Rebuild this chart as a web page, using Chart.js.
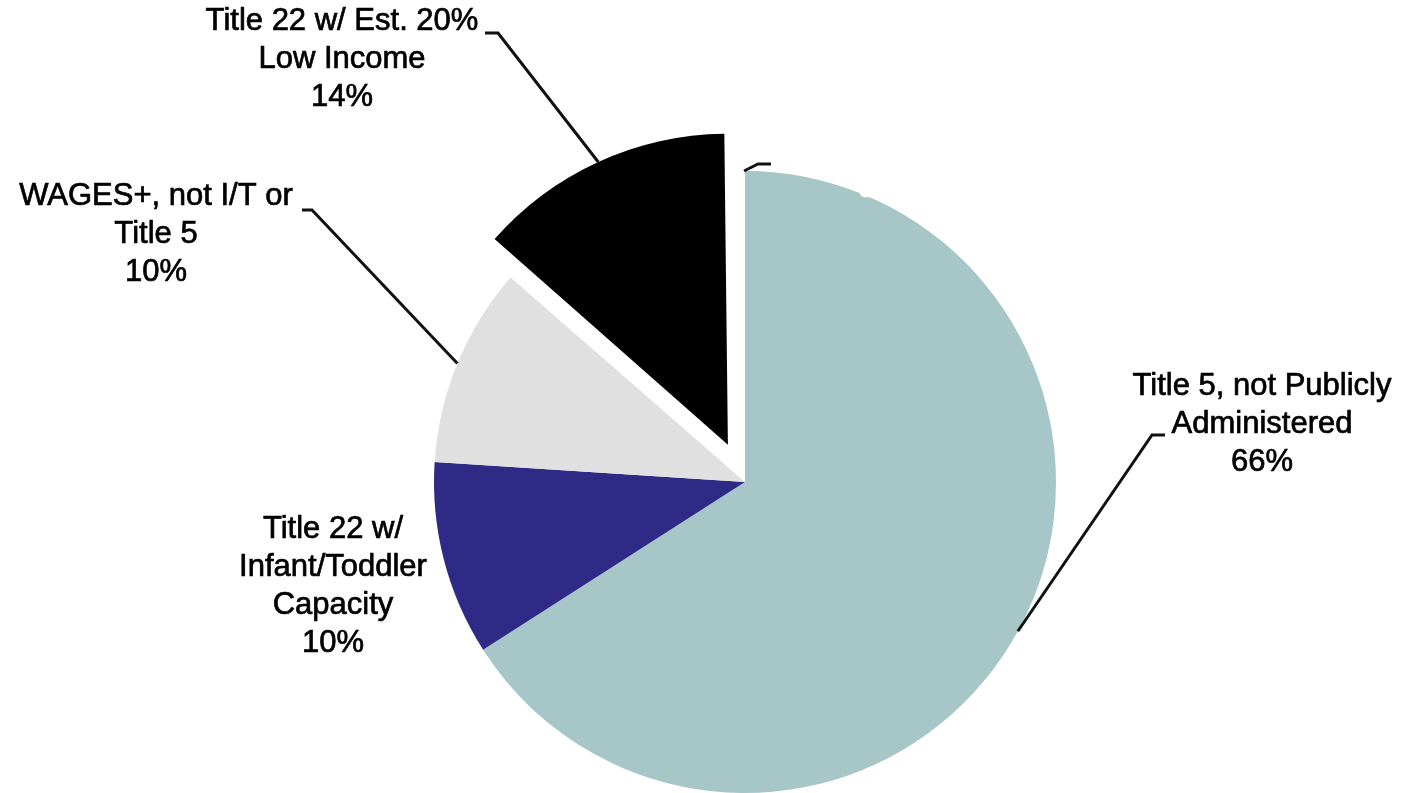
<!DOCTYPE html>
<html>
<head>
<meta charset="utf-8">
<script src="https://cdn.jsdelivr.net/npm/chart.js@4"></script>
<style>
  html, body { margin: 0; padding: 0; background: #fff; overflow: hidden; }
  #wrap { width: 1403px; height: 793px; position: relative; }
</style>
</head>
<body>
<div id="wrap"><canvas id="pie" width="1403" height="793"></canvas></div>
<script>
// slices, clockwise from 12 o'clock
const categories = [
  ['Title 5, not Publicly', 'Administered'],
  ['Title 22 w/', 'Infant/Toddler', 'Capacity'],
  ['WAGES+, not I/T or', 'Title 5'],
  ['Title 22 w/ Est. 20%', 'Low Income'],
  ['Title 5, Publicly', 'Administered']
];
const shares = [66.0, 10.1, 10.4, 13.5, 0.1];
const pctLabels = ['66%', '10%', '10%', '14%', '0%'];
const colors = ['#A6C6C8', '#2E2A86', '#E0E0E0', '#000000', '#FFFFFF'];

// chart.js moves an exploded slice by offset/4
const explode = [0, 0, 0, 164, 0];

// where each label sits, and the elbow of its leader line (null = no leader)
const labelPos = [
  { x: 1262, y: 386, elbow: [[1152, 435], [1165, 435]], color: '#000' },
  { x: 333, y: 529, elbow: null, color: '#000' },
  { x: 156, y: 196, elbow: [[312, 210], [302, 210]], color: '#000' },
  { x: 342, y: 21, elbow: [[498, 33], [485, 33]], color: '#000' },
  { x: 880, y: 112, elbow: [[758, 164], [771, 164]], color: '#fff' }
];

// keep the exploded slice at the same radius as the rest (library grows it a bit)
const keepRadius = {
  id: 'keepRadius',
  beforeDatasetsDraw(chart) {
    chart.getDatasetMeta(0).data.forEach(arc => {
      const off = (arc.options.offset || 0) / 4;
      if (!off) return;
      const circ = arc.endAngle - arc.startAngle;
      const grow = off * (1 - Math.sin(Math.min(Math.PI, circ)));
      arc.outerRadius = chart.options.radius - grow;
    });
  }
};

const calloutPlugin = {
  id: 'callouts',
  afterDatasetsDraw(chart) {
    const ctx = chart.ctx;
    const meta = chart.getDatasetMeta(0);
    ctx.save();
    meta.data.forEach((arc, i) => {
      const p = arc.getProps(['x', 'y', 'startAngle', 'endAngle'], true);
      const mid = (p.startAngle + p.endAngle) / 2;
      const off = (arc.options.offset || 0) / 4;
      const r = chart.options.radius + off;
      const ax = p.x + Math.cos(mid) * r;
      const ay = p.y + Math.sin(mid) * r;
      const lp = labelPos[i];
      if (lp.elbow) {
        ctx.beginPath();
        ctx.moveTo(ax, ay);
        lp.elbow.forEach(pt => ctx.lineTo(pt[0], pt[1]));
        ctx.strokeStyle = '#111';
        ctx.lineWidth = 3;
        ctx.lineJoin = 'miter';
        ctx.stroke();
      }
      const lines = categories[i].concat([pctLabels[i]]);
      ctx.fillStyle = lp.color;
      ctx.strokeStyle = lp.color;
      ctx.lineWidth = 0.7;
      ctx.font = '31px "Liberation Sans", Arial, sans-serif';
      ctx.textAlign = 'center';
      ctx.textBaseline = 'middle';
      lines.forEach((t, k) => {
        ctx.fillText(t, lp.x, lp.y + k * 38);
        ctx.strokeText(t, lp.x, lp.y + k * 38);
      });
    });
    ctx.restore();
  }
};

new Chart(document.getElementById('pie').getContext('2d'), {
  type: 'pie',
  data: {
    labels: categories.map(c => c.join(' ')),
    datasets: [{
      data: shares,
      backgroundColor: colors,
      borderWidth: 0,
      offset: explode,
      clip: false
    }]
  },
  options: {
    responsive: false,
    animation: false,
    radius: 311,
    layout: { padding: { left: 87, right: 0, top: 171, bottom: 0 } },
    plugins: {
      legend: { display: false },
      tooltip: { enabled: false }
    }
  },
  plugins: [keepRadius, calloutPlugin]
});
</script>
</body>
</html>
